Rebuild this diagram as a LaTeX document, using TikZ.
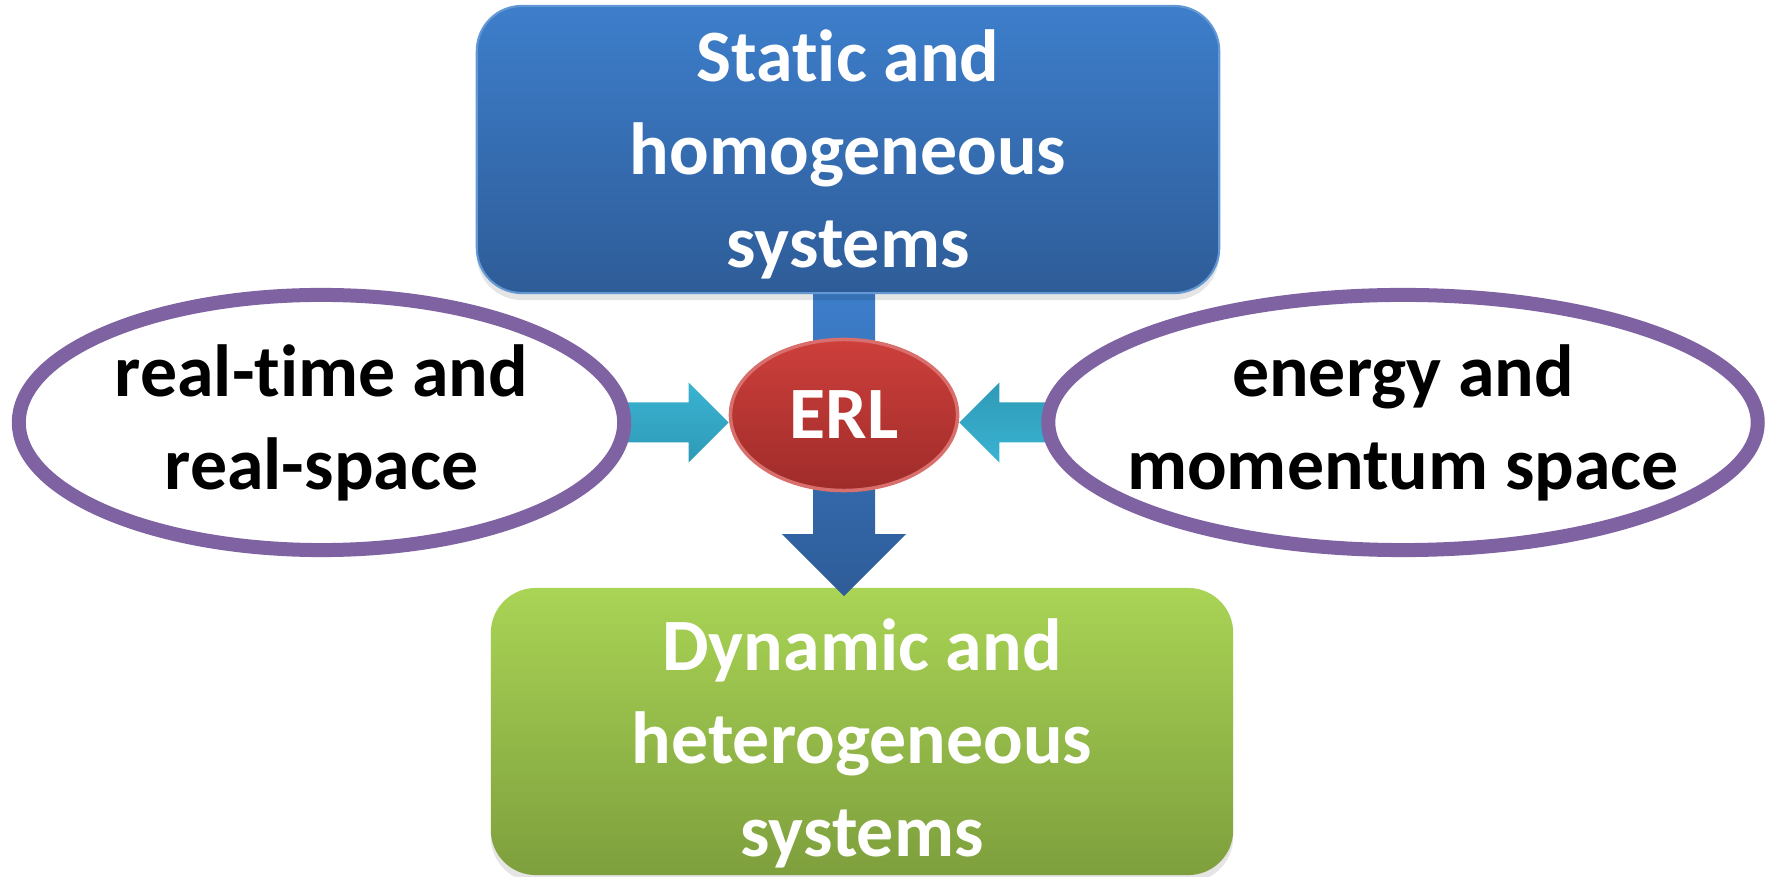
\documentclass[tikz,border=0pt]{standalone}
\usepackage{fontspec}
\setmainfont{Carlito}[Ligatures=NoCommon]
\usetikzlibrary{shapes.geometric,calc,backgrounds,shadows}
\definecolor{boxblue}{HTML}{3D7ECB}
\definecolor{boxblued}{HTML}{2E5C98}
\definecolor{boxgreen}{HTML}{A9D455}
\definecolor{boxgreend}{HTML}{7E9F3D}
\definecolor{erlred}{HTML}{CD3F3B}
\definecolor{erlredd}{HTML}{9F2C2A}
\definecolor{ringviolet}{HTML}{7F62A1}
\definecolor{arrowcyan}{HTML}{3AB3D2}
\definecolor{arrowcyand}{HTML}{2E9AB6}
\tikzset{
	txt/.style={font=\bfseries\fontsize{21pt}{26.5pt}\selectfont,align=center},
	softshadow/.style={drop shadow={shadow xshift=0pt,shadow yshift=-2pt,opacity=.1,fill=black}},
	sysbox/.style={rounded corners=0.45cm,minimum width=7.42cm,minimum height=2.87cm,inner sep=0pt,softshadow},
	systxt/.style={txt,text=white},
	spacering/.style={txt,ellipse,draw=ringviolet,line width=0.14cm,fill=white,minimum height=2.55cm,inner xsep=-0.3cm,inner ysep=0pt},
}
\begin{document}
\begin{tikzpicture}[x=0.01cm,y=-0.01cm]
	\useasboundingbox (0,0) rectangle (1777,877);
	% boxes
	\node[sysbox,systxt,top color=boxblue,bottom color=boxblued,draw=boxblue!80!white,line width=0.6pt] (static) at (848,149.5) {};
	\node[systxt] (statictxt) at ([yshift=-0.05cm]static.center) {Static and\\ homogeneous\\ systems};
	\begin{scope}[on background layer]
	\node[sysbox,top color=boxgreen,bottom color=boxgreend] (dynamic) at (862,731.5) {};
	\end{scope}
	\node[systxt] (dynamictxt) at ([yshift=-0.12cm]dynamic.center) {Dynamic and\\ heterogeneous\\ systems};
	% the two spaces
	\node[spacering,minimum width=6.05cm] (realsp) at (321.5,422.5) {real-time and\\ real-space};
	\node[spacering,minimum width=7.09cm] (kspace) at (1403,422.5) {energy and\\ momentum space};
	\node[txt,ellipse,text=white,top color=erlred,bottom color=erlredd,draw=erlred!75!white,line width=1pt,minimum width=2.27cm,minimum height=1.51cm,inner sep=0pt] (erl) at (844,415) {ERL};
	% block arrows
	\coordinate (dtip) at ([yshift=-0.09cm]dynamic.north -| erl.center);
	\coordinate (ltip) at (erl.west |- realsp.east);
	\coordinate (rtip) at (erl.east |- kspace.west);
	\begin{scope}[on background layer]
	\shade[top color=boxblue,bottom color=boxblued] ($(static.south -| erl)+(-31,-5)$) -- ($(dtip)+(-31,-62)$) -- ($(dtip)+(-62,-62)$) -- (dtip) -- ($(dtip)+(62,-62)$) -- ($(dtip)+(31,-62)$) -- ($(static.south -| erl)+(31,-5)$) -- cycle;
	\shade[top color=arrowcyan,bottom color=arrowcyand] ($(realsp.east)+(-10,-20)$) -- ($(ltip)+(-40,-20)$) -- ($(ltip)+(-40,-40)$) -- (ltip) -- ($(ltip)+(-40,40)$) -- ($(ltip)+(-40,20)$) -- ($(realsp.east)+(-10,20)$) -- cycle;
	\shade[top color=arrowcyand,bottom color=arrowcyan] ($(kspace.west)+(10,-20)$) -- ($(rtip)+(40,-20)$) -- ($(rtip)+(40,-40)$) -- (rtip) -- ($(rtip)+(40,40)$) -- ($(rtip)+(40,20)$) -- ($(kspace.west)+(10,20)$) -- cycle;
	\end{scope}
\end{tikzpicture}
\end{document}
